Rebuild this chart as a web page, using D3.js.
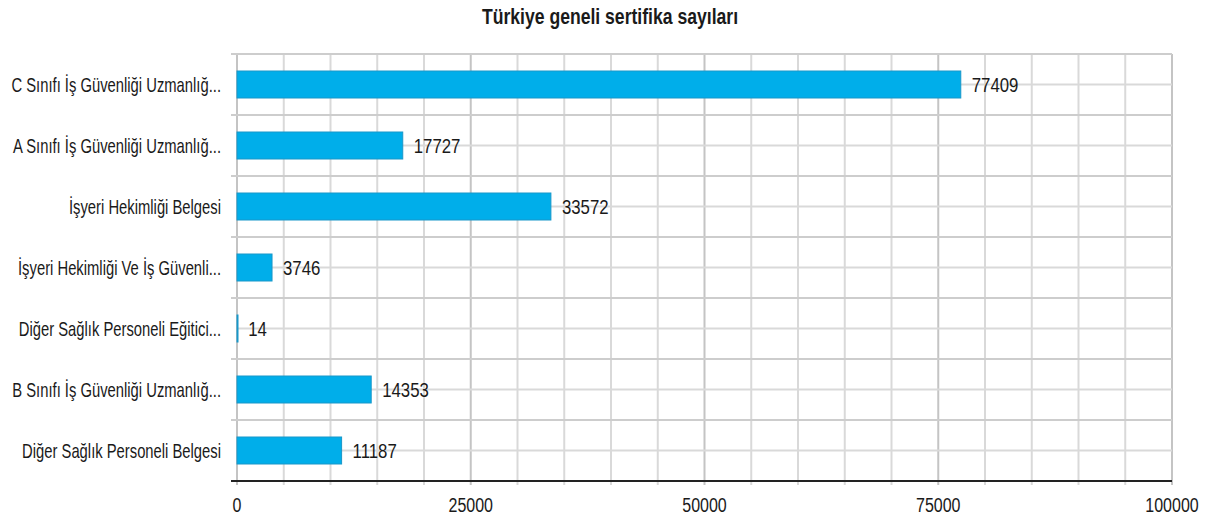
<!DOCTYPE html>
<html>
<head>
<meta charset="utf-8">
<script src="https://cdnjs.cloudflare.com/ajax/libs/d3/7.8.5/d3.min.js"></script>
<style>
  body { margin: 0; background: #fff; }
  text { font-family: "Liberation Sans", Arial, sans-serif; fill: #1a1a1a; }
</style>
</head>
<body>
<div id="chart-wrapper"></div>
<script>
var chartTitle = "Türkiye geneli sertifika sayıları";
var categories = [
  "C Sınıfı İş Güvenliği Uzmanlığ...",
  "A Sınıfı İş Güvenliği Uzmanlığ...",
  "İşyeri Hekimliği Belgesi",
  "İşyeri Hekimliği Ve İş Güvenli...",
  "Diğer Sağlık Personeli Eğitici...",
  "B Sınıfı İş Güvenliği Uzmanlığ...",
  "Diğer Sağlık Personeli Belgesi"
];
var values = [77409, 17727, 33572, 3746, 14, 14353, 11187];
var xTicks = [0, 25000, 50000, 75000, 100000];
var xMinor = d3.range(0, 100001, 5000);

var width = 1215, height = 522;
var margin = {top: 54, right: 43, bottom: 41, left: 237};
var plotW = width - margin.left - margin.right;
var plotH = height - margin.top - margin.bottom;

var svg = d3.select("#chart-wrapper").append("svg")
    .attr("width", width)
    .attr("height", height);

function addText(parent, x, y, str, size, anchor, squeeze, weight){
  return parent.append("text")
      .attr("transform", "translate(" + x + "," + y + ") scale(" + squeeze + ",1)")
      .style("font-size", size + "px")
      .style("font-weight", weight || "normal")
      .style("text-anchor", anchor)
      .text(str);
}

addText(svg, 610, 24, chartTitle, 22, "middle", 0.8, "bold");

var g = svg.append("g").attr("transform", "translate(" + margin.left + "," + margin.top + ")");

var x = d3.scaleLinear().domain([0, 100000]).range([0, plotW]);
var y = d3.scaleBand().domain(categories).range([0, plotH]).paddingInner(0).paddingOuter(0);

// vertical grid lines
g.selectAll(".vgrid").data(xMinor).enter().append("line")
    .attr("x1", function(d){ return x(d); })
    .attr("x2", function(d){ return x(d); })
    .attr("y1", 0).attr("y2", plotH + 4)
    .attr("stroke", function(d){ return d % 25000 === 0 ? "#c4c4c4" : "#d9d9d9"; })
    .attr("stroke-width", 2);

// band boundary lines
var bounds = categories.map(function(c){ return y(c); });
g.selectAll(".hgrid").data(bounds).enter().append("line")
    .attr("x1", -6).attr("x2", plotW)
    .attr("y1", function(d){ return d; }).attr("y2", function(d){ return d; })
    .attr("stroke", "#cdcdcd").attr("stroke-width", 2);

// band centre lines
g.selectAll(".cgrid").data(categories).enter().append("line")
    .attr("x1", 0).attr("x2", plotW)
    .attr("y1", function(d){ return y(d) + y.bandwidth() / 2; })
    .attr("y2", function(d){ return y(d) + y.bandwidth() / 2; })
    .attr("stroke", "#d9d9d9").attr("stroke-width", 2);

// bottom axis line
g.append("line")
    .attr("x1", -6).attr("x2", plotW)
    .attr("y1", plotH).attr("y2", plotH)
    .attr("stroke", "#222").attr("stroke-width", 2);

var barH = 27;
g.selectAll(".bar").data(values).enter().append("rect")
    .attr("x", 0)
    .attr("y", function(d, i){ return y(categories[i]) + (y.bandwidth() - barH) / 2; })
    .attr("width", function(d){ return Math.max(1, x(d)); })
    .attr("height", barH)
    .attr("fill", "#00aeea")
    .attr("stroke", "#1897c9")
    .attr("stroke-width", 1);

values.forEach(function(v, i){
  addText(g, x(v) + 11, y(categories[i]) + y.bandwidth() / 2 + 7, v, 20, "start", 0.84);
  addText(g, -16, y(categories[i]) + y.bandwidth() / 2 + 7, categories[i], 20, "end", 0.74);
});

xTicks.forEach(function(t){
  addText(g, x(t), plotH + 31, t, 20, "middle", 0.8);
});
</script>
</body>
</html>
